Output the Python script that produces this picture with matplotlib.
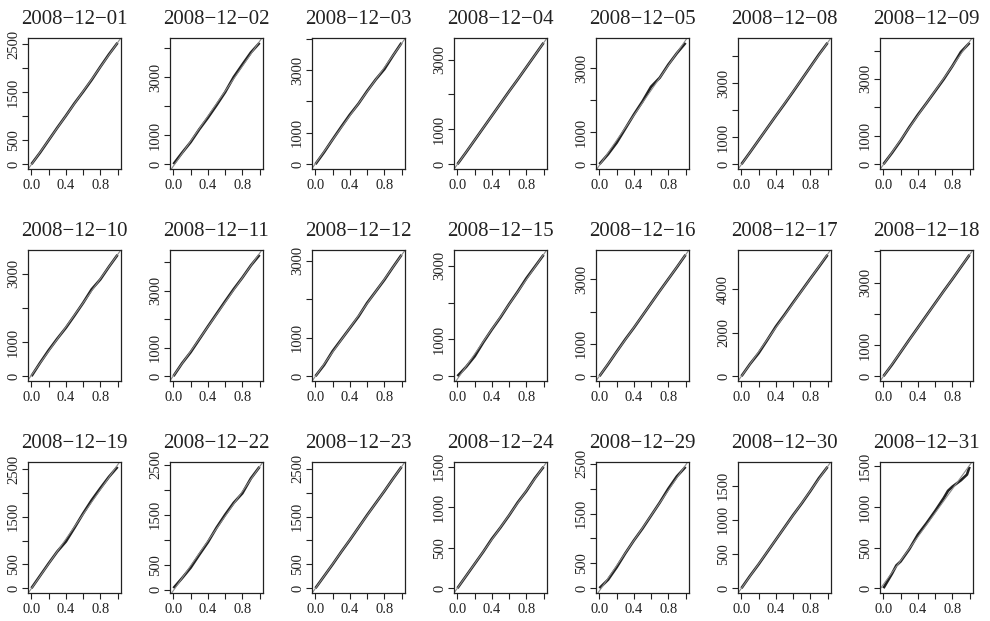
import matplotlib
matplotlib.use("Agg")
import matplotlib.pyplot as plt
import numpy as np

plt.rcParams['font.family'] = ['Liberation Serif', 'DejaVu Serif']

days = ["2008-12-01", "2008-12-02", "2008-12-03", "2008-12-04", "2008-12-05", "2008-12-08", "2008-12-09",
        "2008-12-10", "2008-12-11", "2008-12-12", "2008-12-15", "2008-12-16", "2008-12-17", "2008-12-18",
        "2008-12-19", "2008-12-22", "2008-12-23", "2008-12-24", "2008-12-29", "2008-12-30", "2008-12-31"]

# fraction of the trading day
t_grid = [0.0, 0.1, 0.2, 0.3, 0.4, 0.5, 0.6, 0.7, 0.8, 0.9, 1.0]

counts = [
    [0, 240, 500, 760, 1010, 1270, 1510, 1760, 2030, 2290, 2530],
    [0, 390, 760, 1200, 1600, 2030, 2480, 3000, 3430, 3850, 4180],
    [0, 380, 790, 1190, 1580, 1930, 2330, 2700, 3030, 3460, 3870],
    [0, 340, 690, 1040, 1390, 1740, 2090, 2430, 2780, 3130, 3480],
    [0, 310, 670, 1110, 1550, 1960, 2420, 2700, 3110, 3470, 3790],
    [0, 440, 890, 1340, 1790, 2230, 2680, 3140, 3600, 4060, 4490],
    [0, 400, 830, 1300, 1740, 2150, 2570, 2990, 3450, 3950, 4270],
    [0, 390, 760, 1100, 1420, 1780, 2150, 2550, 2840, 3210, 3560],
    [0, 450, 840, 1290, 1740, 2180, 2620, 3050, 3450, 3880, 4250],
    [0, 290, 650, 950, 1250, 1550, 1900, 2200, 2500, 2830, 3150],
    [0, 250, 540, 920, 1270, 1600, 1960, 2300, 2660, 2980, 3300],
    [0, 370, 760, 1140, 1500, 1880, 2260, 2640, 3010, 3380, 3760],
    [0, 560, 1060, 1660, 2280, 2820, 3380, 3930, 4480, 5020, 5570],
    [0, 370, 770, 1170, 1560, 1950, 2340, 2730, 3110, 3500, 3890],
    [0, 260, 520, 770, 980, 1270, 1570, 1850, 2100, 2340, 2550],
    [30, 230, 440, 700, 950, 1240, 1500, 1740, 1930, 2230, 2460],
    [0, 250, 500, 760, 1010, 1270, 1530, 1780, 2030, 2290, 2540],
    [0, 150, 300, 450, 610, 750, 900, 1060, 1200, 1360, 1500],
    [0, 170, 420, 700, 960, 1200, 1460, 1720, 2000, 2250, 2440],
    [0, 180, 350, 530, 710, 890, 1070, 1240, 1420, 1610, 1775],
    None,
]

# last day has a bend near the close, read on a finer grid
t_1231 = [0.0, 0.1, 0.15, 0.2, 0.3, 0.4, 0.5, 0.6, 0.7, 0.75, 0.8, 0.9, 0.97, 1.0]
counts_1231 = [0, 180, 280, 330, 480, 660, 800, 950, 1110, 1200, 1250, 1330, 1400, 1495]

# y tick spacing and which tick labels are printed
y_steps = [500, 1000, 1000, 1000, 1000, 1000, 1000,
           1000, 1000, 1000, 1000, 1000, 2000, 1000,
           500, 500, 500, 500, 500, 500, 500]
y_shown = [[0, 500, 1500, 2500], [0, 1000, 3000], [0, 1000, 3000], [0, 1000, 3000],
           [0, 1000, 3000], [0, 1000, 3000], [0, 1000, 3000],
           [0, 1000, 3000], [0, 1000, 3000], [0, 1000, 3000], [0, 1000, 3000],
           [0, 1000, 3000], [0, 2000, 4000], [0, 1000, 3000],
           [0, 500, 1500, 2500], [0, 500, 1500, 2500], [0, 500, 1500, 2500],
           [0, 500, 1000, 1500], [0, 500, 1500, 2500], [0, 500, 1000, 1500],
           [0, 500, 1000, 1500]]

x_ticks = [0.0, 0.2, 0.4, 0.6, 0.8, 1.0]
x_labels = ["0.0", "", "0.4", "", "0.8", ""]

W, H = 990, 621
fig = plt.figure(figsize=(W / 100, H / 100), dpi=100)

for i, day in enumerate(days):
    r, c = divmod(i, 7)
    left = 28 + 142 * c
    top = 38 + 212 * r
    ax = fig.add_axes([left / W, 1 - (top + 131) / H, 93 / W, 131 / H])

    if counts[i] is None:
        t, y = np.array(t_1231), np.array(counts_1231)
    else:
        t, y = np.array(t_grid), np.array(counts[i])

    ax.plot(t, y, color='#222222', lw=1.9, solid_capstyle='butt')
    ax.margins(x=0.04, y=0.04)
    ax.autoscale_view()
    ax.set_xlim(ax.get_xlim())
    ax.set_ylim(ax.get_ylim())

    # least-squares reference line
    slope, icpt = np.polyfit(t, y, 1)
    ax.axline((0, icpt), slope=slope, color='#8c8c8c', lw=0.8)

    ymax = ax.get_ylim()[1]
    yt = np.arange(0, ymax + 1, y_steps[i])
    ax.set_yticks(yt)
    ax.set_yticklabels([str(int(v)) if v in y_shown[i] else "" for v in yt])
    ax.set_xticks(x_ticks)
    ax.set_xticklabels(x_labels)

    ax.tick_params(direction='out', length=4.2, width=0.8, labelsize=10.5, colors='#222222')
    ax.tick_params(axis='x', pad=3)
    ax.tick_params(axis='y', pad=1.5)
    for lab in ax.get_yticklabels():
        lab.set_rotation(90)
        lab.set_va('center')
    for sp in ax.spines.values():
        sp.set_linewidth(0.9)
        sp.set_color('#222222')

    ax.set_title(day.replace('-', '\u2212'), fontsize=15, pad=10, color='#222222')

fig.savefig("out.png", dpi=100)
